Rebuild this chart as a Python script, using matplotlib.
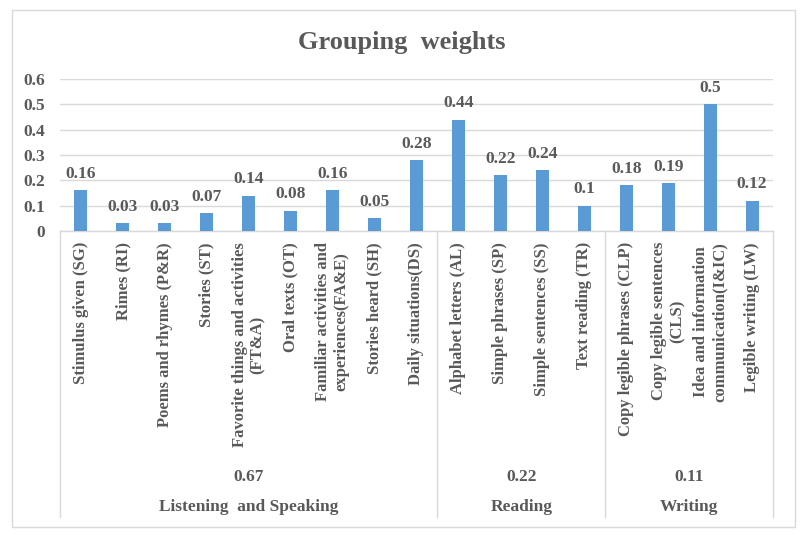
import matplotlib
matplotlib.use("Agg")
import matplotlib.pyplot as plt
from matplotlib.patches import Rectangle
import matplotlib.transforms as mtransforms

plt.rcParams['font.family'] = ['Liberation Serif', 'DejaVu Serif']

categories = [
    "Stimulus given (SG)", "Rimes (RI)", "Poems and rhymes (P&R)", "Stories (ST)",
    "Favorite things and activities\n(FT&A)", "Oral texts (OT)",
    "Familiar activities and\nexperiences(FA&E)", "Stories heard (SH)", "Daily situations(DS)",
    "Alphabet letters (AL)", "Simple phrases (SP)", "Simple sentences (SS)", "Text reading (TR)",
    "Copy legible phrases (CLP)", "Copy legible sentences\n(CLS)",
    "Idea and information\ncommunication(I&IC)", "Legible writing (LW)",
]
values = [0.16, 0.03, 0.03, 0.07, 0.14, 0.08, 0.16, 0.05, 0.28,
          0.44, 0.22, 0.24, 0.10,
          0.18, 0.19, 0.50, 0.12]
value_labels = ["0.16", "0.03", "0.03", "0.07", "0.14", "0.08", "0.16", "0.05", "0.28",
                "0.44", "0.22", "0.24", "0.1",
                "0.18", "0.19", "0.5", "0.12"]
groups = ["Listening  and Speaking", "Reading", "Writing"]
group_weights = ["0.67", "0.22", "0.11"]
group_sizes = [9, 4, 4]
yticks = [0, 0.1, 0.2, 0.3, 0.4, 0.5, 0.6]
ytick_labels = ["0", "0.1", "0.2", "0.3", "0.4", "0.5", "0.6"]

TEXT = "#595959"
BAR = "#5B9BD5"
GRID = "#D9D9D9"

W, H = 802, 534
fig = plt.figure(figsize=(W / 100, H / 100), dpi=100)
fig.patch.set_facecolor("white")

# outer chart border
fig.patches.append(Rectangle((12 / W, 1 - 527 / H), (795 - 12) / W, (527 - 10) / H,
                             transform=fig.transFigure, fill=False,
                             edgecolor=GRID, linewidth=1.0))

left, right, top, bottom = 60, 773, 79, 231
ax = fig.add_axes([left / W, 1 - bottom / H, (right - left) / W, (bottom - top) / H])

x = list(range(len(values)))
ax.bar(x, values, width=0.31, color=BAR, zorder=3)
ax.set_xlim(-0.5, len(values) - 0.5)
ax.set_ylim(0, 0.6)
ax.set_yticks(yticks)
ax.set_yticklabels(ytick_labels, fontsize=12.5, fontweight="bold", color=TEXT)
ax.tick_params(axis="y", length=0, pad=11)
ax.grid(axis="y", color=GRID, linewidth=1.0, zorder=0)
for s in ["top", "right", "left"]:
    ax.spines[s].set_visible(False)
ax.spines["bottom"].set_color(GRID)
ax.spines["bottom"].set_linewidth(1.0)

ax.set_xticks(x)
ax.set_xticklabels(categories, rotation=90, fontsize=12, fontweight="bold", color=TEXT,
                   ha="center", va="top", multialignment="center")
ax.tick_params(axis="x", length=0, pad=8)

for xi, v, lab in zip(x, values, value_labels):
    ax.annotate(lab, (xi, v), xytext=(0, 6), textcoords="offset points",
                ha="center", va="bottom", fontsize=12.5, fontweight="bold", color=TEXT)

trans = mtransforms.blended_transform_factory(ax.transData, ax.transAxes)
axh = bottom - top
sep_bottom = -(517 - bottom) / axh
y_weight = -(477 - bottom) / axh
y_group = -(507 - bottom) / axh

start = 0
bounds = [-0.5]
for g, wgt, n in zip(groups, group_weights, group_sizes):
    center = start + (n - 1) / 2
    ax.text(center, y_weight, wgt, transform=trans, ha="center", va="center",
            fontsize=12.5, fontweight="bold", color=TEXT)
    ax.text(center, y_group, g, transform=trans, ha="center", va="center",
            fontsize=12.5, fontweight="bold", color=TEXT)
    start += n
    bounds.append(start - 0.5)

for b in bounds:
    ax.plot([b, b], [0, sep_bottom], transform=trans, color=GRID, linewidth=1.0,
            clip_on=False)

fig.text(402 / W, 1 - 43 / H, "Grouping  weights", ha="center", va="center",
         fontsize=19, fontweight="bold", color=TEXT)

fig.savefig("out.png", dpi=100)
